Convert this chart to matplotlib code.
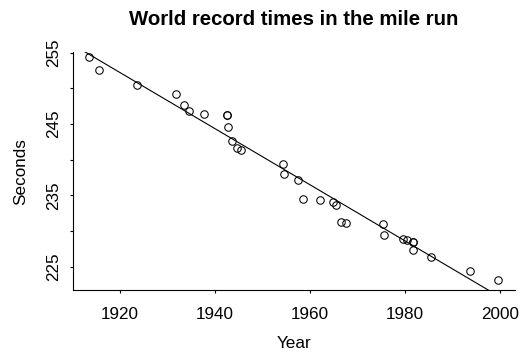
import numpy as np
import matplotlib
matplotlib.use("Agg")
import matplotlib.pyplot as plt

# World record times for the mile (decimal year of the record, time in seconds)
years = [1913.41, 1915.54, 1923.64, 1931.76, 1933.54, 1934.46, 1937.66,
         1942.55, 1942.57, 1942.68, 1943.50, 1944.54, 1945.54, 1954.35,
         1954.47, 1957.55, 1958.60, 1962.07, 1964.88, 1965.44, 1966.54,
         1967.48, 1975.38, 1975.61, 1979.54, 1980.50, 1981.63, 1981.65,
         1981.66, 1985.57, 1993.68, 1999.52]
seconds = [254.4, 252.6, 250.4, 249.2, 247.6, 246.8, 246.4,
           246.2, 246.2, 244.6, 242.6, 241.6, 241.4, 239.4,
           238.0, 237.2, 234.5, 234.4, 234.1, 233.6, 231.3,
           231.1, 231.0, 229.4, 228.95, 228.8, 228.53, 228.4,
           227.33, 226.32, 224.39, 223.13]

x_ticks = [1920, 1940, 1960, 1980, 2000]
y_ticks = [225, 230, 235, 240, 245, 250, 255]
y_tick_labels = ["225", "", "235", "", "245", "", "255"]

plt.rcParams['font.family'] = ['Liberation Sans', 'DejaVu Sans']

fig = plt.figure(figsize=(5.2, 3.52), dpi=100)
ax = fig.add_axes([0.1398, 0.1761, 0.8506, 0.6753])

x = np.array(years)
y = np.array(seconds)
ax.plot(x, y, 'o', mfc='none', mec='black', ms=5.4, mew=0.75)

# least squares line, drawn across the whole panel and clipped
slope, icpt = np.polyfit(x, y, 1)
xl = np.array([1905, 2010])
ax.plot(xl, icpt + slope * xl, color='black', lw=0.8)

ax.set_xlim(1910.04, 2003.16)
ax.set_ylim(221.73, 255.05)

ax.set_xticks(x_ticks)
ax.set_yticks(y_ticks)
ax.set_yticklabels(y_tick_labels, rotation=90, va='center')

ax.spines['top'].set_visible(False)
ax.spines['right'].set_visible(False)
for s in ['left', 'bottom']:
    ax.spines[s].set_linewidth(0.8)
ax.tick_params(direction='out', length=2.5, width=0.8, labelsize=12.3)
ax.tick_params(axis='x', pad=10)
ax.tick_params(axis='y', pad=6)

ax.set_xlabel("Year", fontsize=12.3, labelpad=10)
ax.set_ylabel("Seconds", fontsize=12.3, labelpad=13)
ax.set_title("World record times in the mile run", fontsize=14.7,
             fontweight='bold', pad=20)

fig.savefig("out.png", dpi=100)
